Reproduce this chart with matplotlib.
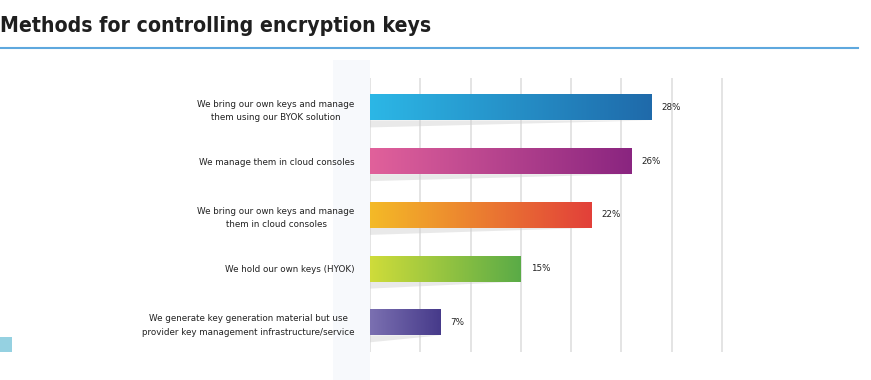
import matplotlib.pyplot as plt
import matplotlib.patches as patches
from matplotlib.colors import LinearSegmentedColormap
import numpy as np

# データ
labels = [
    "We bring our own keys and manage\nthem using our BYOK solution",
    "We manage them in cloud consoles",
    "We bring our own keys and manage\nthem in cloud consoles",
    "We hold our own keys (HYOK)",
    "We generate key generation material but use\nprovider key management infrastructure/service",
]
values = [28, 26, 22, 15, 7]
start_colors = ["#2cb7e6", "#e1619b", "#f4ba27", "#cfdc3a", "#7b70b1"]
end_colors = ["#1f6aaa", "#8a2580", "#e2403a", "#5aab47", "#463a8a"]
ticks = [0, 5, 10, 15, 20, 25, 30, 35]

W, H = 871, 380
fig = plt.figure(figsize=(W / 100, H / 100), dpi=100, facecolor='white')

# 左側の薄い帯
fig.patches.append(patches.Rectangle((333 / W, 0), 37 / W, 1 - 60 / H,
                                     transform=fig.transFigure, facecolor='#f7f9fc',
                                     edgecolor='none', zorder=0))

# タイトル
fig.text(0.0, 1 - 26 / H, "Methods for controlling encryption keys",
         fontsize=15.2, fontweight='bold', fontstretch='condensed',
         color='#1f1f1f', ha='left', va='center')
fig.add_artist(plt.Line2D([0, 858 / W], [1 - 48 / H, 1 - 48 / H],
                          transform=fig.transFigure, color='#5ea8de', lw=1.5))

# 左下の小さい四角
fig.patches.append(patches.Rectangle((0, 1 - 352 / H), 12 / W, 15 / H,
                                     transform=fig.transFigure, facecolor='#95d1e1',
                                     edgecolor='none'))

ax = fig.add_axes([370 / W, 1 - 352 / H, 355 / W, 274 / H])
ax.set_facecolor('none')
ax.set_zorder(2)

bar_h = 0.48
grad = np.linspace(0, 1, 256).reshape(1, -1)
for i, (v, c0, c1) in enumerate(zip(values, start_colors, end_colors)):
    # 影
    b = i + bar_h / 2
    shadow = patches.Polygon([(0, b), (v, b), (0, b + 0.13)],
                             closed=True, facecolor='#cfcfcf', edgecolor='none',
                             alpha=0.45, zorder=2)
    ax.add_patch(shadow)
    cmap = LinearSegmentedColormap.from_list(f"g{i}", [c0, c1])
    ax.imshow(grad, cmap=cmap, extent=(0, v, i + bar_h / 2, i - bar_h / 2),
              aspect='auto', zorder=3, interpolation='bicubic')
    ax.text(v + 1.0, i, f"{v}%", fontsize=6.3, color='#222222',
            ha='left', va='center', zorder=4)

for t in ticks:
    ax.axvline(t, color='#e2e2e2', lw=1.3, zorder=1)

ax.set_xlim(0, 35.3)
ax.set_ylim(len(values) - 0.45, -0.55)
ax.set_yticks(range(len(values)))
ax.set_yticklabels(labels, fontsize=6.3, color='#222222')
ax.tick_params(axis='y', length=0, pad=11)
ax.set_xticks([])
for s in ax.spines.values():
    s.set_visible(False)
for lbl in ax.get_yticklabels():
    lbl.set_multialignment('center')
    lbl.set_linespacing(1.6)

fig.savefig('out.png', dpi=100, facecolor='white')
